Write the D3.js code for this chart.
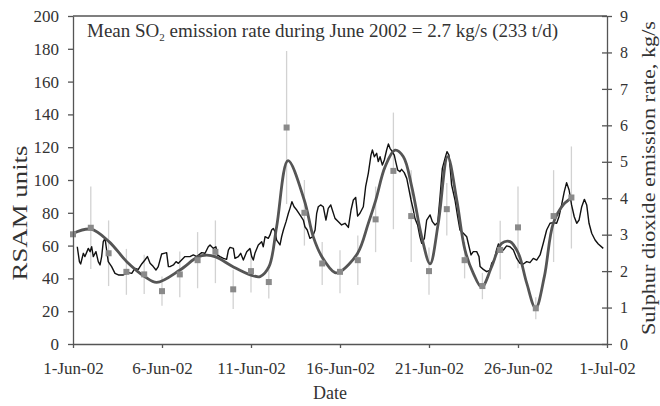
<!DOCTYPE html>
<html>
<head>
    <title>RSAM and SO2 emission rate, June 2002</title>
    <script src="https://d3js.org/d3.v7.min.js"></script>
    <style>
        body {
            margin: 0;
            background: #fff;
        }
        svg text {
            font-family: "Liberation Serif", "Times New Roman", serif;
            fill: #333;
        }
        .axis path, .axis line {
            stroke: #555;
            stroke-width: 1.3;
        }
    </style>
</head>
<body>
    <svg id="chart" width="660" height="406"></svg>

    <script>
        const serif = '"Liberation Serif", "Times New Roman", serif';

        // x ticks every 5 days, days counted from 1 June 2002
        const xTickDays = [0, 5, 10, 15, 20, 25, 30];
        const rsamTicks = [0, 20, 40, 60, 80, 100, 120, 140, 160, 180, 200];
        const so2Ticks = [0, 1, 2, 3, 4, 5, 6, 7, 8, 9];

        // daily SO2 emission rate (kg/s) with error
        const so2Day = [0, 1, 2, 3, 4, 5, 6, 7, 8, 9, 10, 11, 12, 13, 14,
                        15, 16, 17, 18, 19, 20, 21, 22, 23, 24, 25, 26, 27, 28];
        const so2Rate = [3.01, 3.19, 2.49, 1.98, 1.91, 1.45, 1.91, 2.30, 2.53, 1.50,
                         2.00, 1.70, 5.94, 3.60, 2.21, 1.98, 2.30, 3.42, 4.75, 3.51,
                         2.00, 3.70, 2.30, 1.59, 2.58, 3.20, 0.98, 3.51, 4.02];
        const so2Err = [0, 1.13, 0.90, 0.63, 0.54, 0.40, 0.63, 0.77, 0.86, 0.54,
                        0.59, 0.45, 2.10, 0.90, 0.59, 0.59, 0.68, 0.90, 1.60, 1.26,
                        0.65, 0.72, 0.50, 0.36, 0.80, 1.12, 0.30, 1.26, 1.40];

        // smoothed SO2 trend (day, kg/s)
        const so2Trend = [
            [0.02, 3.04], [1.01, 3.15], [2.02, 2.81], [3.02, 2.26], [4.03, 1.85],
            [4.70, 1.69], [6.01, 2.03], [7.01, 2.39], [7.51, 2.44], [8.02, 2.39],
            [8.99, 2.12], [10.0, 1.89], [10.51, 1.85], [11.01, 2.12], [11.44, 3.22],
            [12.08, 5.03], [12.99, 3.95], [13.5, 2.94], [13.99, 2.39], [14.72, 1.96],
            [15.0, 1.98], [15.99, 2.49], [16.59, 3.31], [17.01, 3.95], [17.53, 4.86],
            [18.09, 5.32], [18.56, 5.14], [19.03, 4.32], [19.59, 2.94], [20.06, 2.20],
            [20.52, 3.31], [21.05, 5.14], [21.56, 3.95], [22.02, 2.58], [22.49, 1.94],
            [22.96, 1.56], [23.52, 2.12], [24.08, 2.76], [24.55, 2.81], [25.02, 2.49],
            [25.49, 1.67], [25.99, 0.98], [26.48, 1.85], [26.98, 3.31], [27.54, 3.82],
            [28.05, 4.02]
        ];

        // RSAM (day, units)
        const rsam = [
            [0.24, 59.3], [0.36, 50.2], [0.43, 48.8], [0.58, 55.3], [0.67, 53.3],
            [0.86, 58.3], [0.96, 56.3], [1.05, 59.3], [1.14, 53.3], [1.29, 56.3],
            [1.42, 50.2], [1.52, 48.2], [1.61, 53.3], [1.70, 62.4], [1.80, 64.4],
            [1.89, 57.3], [1.98, 50.2], [2.17, 47.2], [2.36, 43.1], [2.55, 42.1],
            [2.83, 42.1], [3.11, 43.5], [3.30, 43.1], [3.48, 46.1], [3.67, 45.5],
            [3.86, 48.8], [4.04, 51.2], [4.18, 53.3], [4.33, 49.2], [4.51, 47.2],
            [4.66, 45.1], [4.79, 47.2], [4.98, 54.9], [5.11, 55.3], [5.26, 55.7],
            [5.36, 47.2], [5.45, 47.2], [5.64, 48.2], [5.79, 50.2], [5.92, 49.2],
            [6.10, 51.2], [6.29, 53.3], [6.57, 53.3], [6.76, 54.3], [6.95, 53.3],
            [7.23, 55.7], [7.42, 55.3], [7.60, 59.3], [7.70, 60.4], [7.88, 58.3],
            [8.03, 59.3], [8.11, 54.3], [8.26, 53.3], [8.45, 52.2], [8.63, 51.6],
            [8.73, 57.3], [8.82, 58.9], [9.01, 58.3], [9.10, 52.2], [9.29, 53.3],
            [9.42, 55.3], [9.57, 51.2], [9.76, 56.3], [9.94, 58.3], [10.04, 53.3],
            [10.13, 51.2], [10.22, 55.3], [10.41, 60.4], [10.60, 62.4], [10.69, 59.3],
            [10.79, 65.4], [10.97, 64.4], [11.07, 66.5], [11.16, 69.5], [11.25, 70.5],
            [11.35, 68.5], [11.44, 63.4], [11.63, 60.4], [11.72, 65.4], [11.82, 69.5],
            [11.97, 74.6], [12.10, 79.7], [12.19, 82.7], [12.30, 86.8], [12.42, 83.7],
            [12.57, 81.7], [12.75, 78.7], [12.94, 75.6], [13.03, 71.5], [13.16, 69.5],
            [13.31, 64.4], [13.46, 65.4], [13.60, 69.5], [13.69, 79.7], [13.78, 83.7],
            [13.91, 84.8], [14.06, 83.7], [14.21, 75.6], [14.34, 82.7], [14.48, 84.8],
            [14.72, 76.6], [14.91, 74.6], [15.09, 72.6], [15.28, 73.6], [15.47, 71.1],
            [15.62, 81.7], [15.75, 87.8], [15.88, 89.4], [15.99, 78.0], [16.12, 79.7],
            [16.31, 83.7], [16.44, 95.9], [16.59, 104.1], [16.74, 115.2], [16.82, 118.3],
            [16.93, 114.2], [17.06, 116.3], [17.15, 111.2], [17.25, 114.2], [17.38, 109.1],
            [17.49, 112.2], [17.62, 118.3], [17.72, 122.0], [17.81, 119.3], [17.90, 117.9],
            [18.05, 115.2], [18.13, 111.2], [18.24, 106.1], [18.37, 105.1], [18.46, 106.5],
            [18.61, 104.5], [18.75, 101.0], [18.88, 93.9], [18.99, 87.8], [19.12, 81.7],
            [19.21, 76.6], [19.36, 72.6], [19.49, 65.4], [19.59, 61.4], [19.74, 64.4],
            [19.87, 75.6], [20.06, 78.7], [20.19, 74.6], [20.34, 72.6], [20.49, 74.0],
            [20.62, 89.8], [20.75, 107.1], [20.90, 113.2], [21.01, 117.3], [21.12, 115.2],
            [21.20, 106.1], [21.27, 97.0], [21.46, 87.8], [21.61, 77.6], [21.74, 69.5],
            [21.93, 67.5], [22.12, 65.4], [22.25, 59.3], [22.36, 54.3], [22.49, 56.3],
            [22.68, 56.3], [22.81, 53.3], [22.87, 47.2], [23.05, 45.5], [23.24, 44.1],
            [23.43, 45.1], [23.52, 49.2], [23.67, 51.2], [23.80, 57.7], [23.90, 61.0],
            [23.99, 58.3], [24.18, 57.3], [24.36, 59.8], [24.55, 59.3], [24.74, 57.3],
            [24.93, 52.2], [25.11, 49.2], [25.30, 48.8], [25.49, 50.2], [25.67, 49.6],
            [25.86, 52.2], [26.05, 51.2], [26.24, 54.3], [26.42, 61.4], [26.61, 69.5],
            [26.80, 73.6], [26.98, 74.0], [27.17, 73.6], [27.30, 77.6], [27.45, 84.8],
            [27.60, 92.9], [27.73, 98.4], [27.87, 93.9], [28.01, 84.8], [28.16, 77.6],
            [28.30, 73.6], [28.43, 75.6], [28.58, 83.7], [28.73, 88.2], [28.86, 84.8],
            [28.99, 73.6], [29.14, 67.5], [29.33, 63.4], [29.51, 61.0], [29.79, 58.3]
        ];

        const svg = d3.select('#chart');
        const start = Date.UTC(2002, 5, 1);
        const toDate = d => new Date(start + d * 864e5);

        const plot = { left: 73, right: 607, top: 16, bottom: 344 };

        const x = d3.scaleUtc()
            .domain([toDate(0), toDate(30)])
            .range([plot.left, plot.right]);
        const yL = d3.scaleLinear().domain([0, 200]).range([plot.bottom, plot.top]);
        const yR = d3.scaleLinear().domain([0, 9]).range([plot.bottom, plot.top]);

        // top border
        svg.append('line')
            .attr('x1', plot.left).attr('x2', plot.right)
            .attr('y1', plot.top).attr('y2', plot.top)
            .attr('stroke', '#555').attr('stroke-width', 1.3);

        // error bars
        svg.append('g').selectAll('line')
            .data(so2Day.filter((d, i) => so2Err[i] > 0))
            .join('line')
            .attr('x1', d => x(toDate(d)))
            .attr('x2', d => x(toDate(d)))
            .attr('y1', d => yR(so2Rate[d] - so2Err[d]))
            .attr('y2', d => yR(so2Rate[d] + so2Err[d]))
            .attr('stroke', '#d2d2d2')
            .attr('stroke-width', 1.3);

        // RSAM line
        svg.append('path')
            .datum(rsam)
            .attr('fill', 'none')
            .attr('stroke', '#111')
            .attr('stroke-width', 1.4)
            .attr('stroke-linejoin', 'round')
            .attr('d', d3.line()
                .x(d => x(toDate(d[0])))
                .y(d => yL(d[1])));

        // SO2 trend curve
        svg.append('path')
            .datum(so2Trend)
            .attr('fill', 'none')
            .attr('stroke', '#555')
            .attr('stroke-width', 2.8)
            .attr('d', d3.line()
                .curve(d3.curveCatmullRom.alpha(0.5))
                .x(d => x(toDate(d[0])))
                .y(d => yR(d[1])));

        // SO2 daily squares
        svg.append('g').selectAll('rect')
            .data(so2Day)
            .join('rect')
            .attr('x', d => x(toDate(d)) - 3)
            .attr('y', (d, i) => yR(so2Rate[i]) - 3)
            .attr('width', 6)
            .attr('height', 6)
            .attr('fill', '#8a8a8a');

        // axes
        const fmt = d3.utcFormat('%-d-%b-%y');
        const gx = svg.append('g')
            .attr('class', 'axis')
            .attr('transform', `translate(0,${plot.bottom})`)
            .call(d3.axisBottom(x)
                .tickValues(xTickDays.map(toDate))
                .tickFormat(fmt)
                .tickSizeInner(4)
                .tickSizeOuter(0)
                .tickPadding(14));

        const gl = svg.append('g')
            .attr('class', 'axis')
            .attr('transform', `translate(${plot.left},0)`)
            .call(d3.axisLeft(yL)
                .tickValues(rsamTicks)
                .tickSizeInner(5)
                .tickSizeOuter(0)
                .tickPadding(9));

        const gr = svg.append('g')
            .attr('class', 'axis')
            .attr('transform', `translate(${plot.right},0)`)
            .call(d3.axisRight(yR)
                .tickValues(so2Ticks)
                .tickSizeInner(5)
                .tickSizeOuter(0)
                .tickPadding(8));
        gr.selectAll('.tick line').attr('x1', -5);

        [gx, gl].forEach(g => g.attr('font-family', serif).attr('font-size', 17));
        gr.attr('font-family', serif).attr('font-size', 16);
        svg.selectAll('.axis text').attr('fill', '#333');

        // titles
        svg.append('text')
            .attr('x', 330).attr('y', 399)
            .attr('text-anchor', 'middle')
            .attr('font-size', 18)
            .text('Date');

        svg.append('text')
            .attr('transform', 'translate(27,213) rotate(-90)')
            .attr('text-anchor', 'middle')
            .attr('font-size', 21)
            .attr('textLength', 135)
            .attr('lengthAdjust', 'spacingAndGlyphs')
            .text('RSAM units');

        svg.append('text')
            .attr('transform', 'translate(655,178) rotate(-90)')
            .attr('text-anchor', 'middle')
            .attr('font-size', 19)
            .attr('textLength', 314)
            .attr('lengthAdjust', 'spacingAndGlyphs')
            .text('Sulphur dioxide emission rate, kg/s');

        // mean annotation
        const note = svg.append('text')
            .attr('x', 87).attr('y', 37)
            .attr('font-size', 19);
        note.append('tspan').text('Mean SO');
        note.append('tspan').attr('font-size', 11).attr('dy', 4).text('2');
        note.append('tspan').attr('dy', -4)
            .text(' emission rate during June 2002 = 2.7 kg/s (233 t/d)');
    </script>
</body>
</html>
